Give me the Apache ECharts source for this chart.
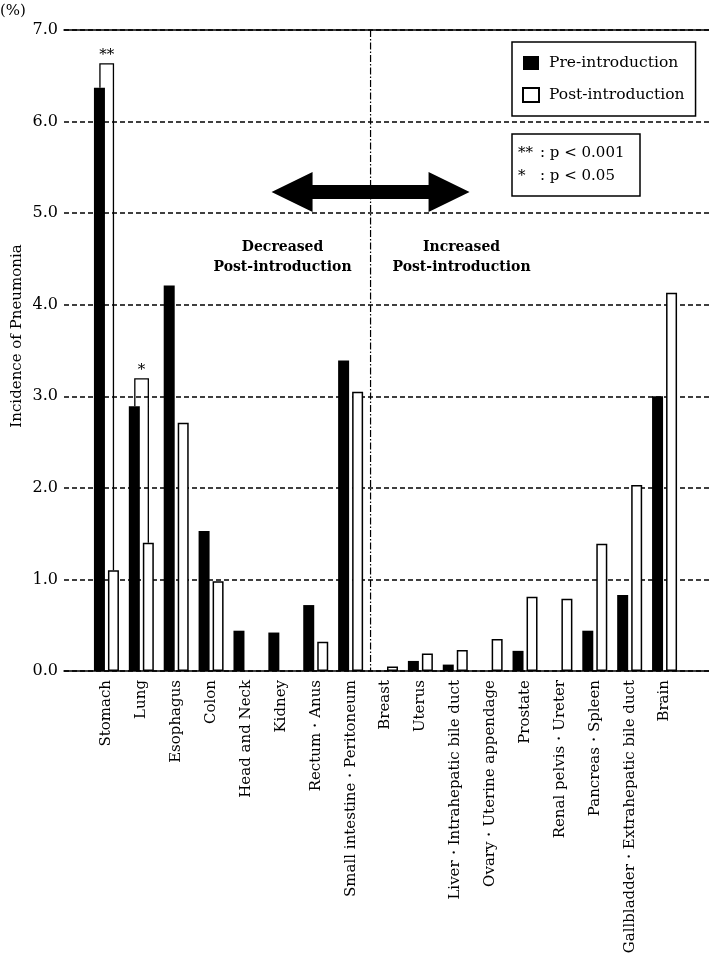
<!DOCTYPE html>
<html>
<head>
<meta charset="utf-8">
<script src="https://cdn.jsdelivr.net/npm/echarts@6/dist/echarts.min.js"></script>
<style>
html,body{margin:0;padding:0;background:#fff;}
#chart{width:709px;height:966px;}
</style>
</head>
<body>
<div id="chart"></div>
<script>
const categories = ['Stomach','Lung','Esophagus','Colon','Head and Neck','Kidney','Rectum・Anus','Small intestine・Peritoneum','Breast','Uterus','Liver・Intrahepatic bile duct','Ovary・Uterine appendage','Prostate','Renal pelvis・Ureter','Pancreas・Spleen','Gallbladder・Extrahepatic bile duct','Brain'];
const preValues  = [6.37, 2.89, 4.21, 1.53, 0.44, 0.42, 0.72, 3.39, null, 0.11, 0.07, null, 0.22, null, 0.44, 0.83, 3.00];
const postValues = [1.10, 1.40, 2.71, 0.98, null, null, 0.32, 3.05, 0.05, 0.19, 0.23, 0.35, 0.81, 0.79, 1.39, 2.03, 4.13];
const sigCategories = ['Stomach','Lung'];
const sigTops = [6.63, 3.19];
const sigMarks = ['**','*'];
const yMin = 0, yMax = 7, yInterval = 1;
const seriesNames = ['Pre-introduction','Post-introduction'];
const yTitle = 'Incidence of Pneumonia';
const pLegend = [['**', ': p < 0.001'], ['*', ': p < 0.05']];
const regionTexts = [['Decreased','Post-introduction'], ['Increased','Post-introduction']];

const FONT = 'DejaVu Serif';
const BAR_W = 11, GAP_PX = 3;
const chart = echarts.init(document.getElementById('chart'));

const sigData = sigCategories.map((c, i) => {
  const k = categories.indexOf(c);
  return [k, preValues[k], postValues[k], sigTops[i], sigMarks[i]];
});

chart.setOption({
  animation: false,
  backgroundColor: '#fff',
  textStyle: { fontFamily: FONT, color: '#000' },
  grid: [
    { left: 64, right: 0, top: 30, bottom: 295, outerBoundsMode: 'none', containLabel: false },
    { left: 89, right: 27, top: 30, bottom: 295, outerBoundsMode: 'none', containLabel: false }
  ],
  legend: {
    data: seriesNames,
    orient: 'vertical',
    left: 512, top: 42,
    icon: 'rect',
    itemWidth: 16, itemHeight: 14, itemGap: 16,
    padding: [13, 11, 13, 10],
    borderColor: '#000', borderWidth: 1.5,
    textStyle: { fontFamily: FONT, fontSize: 15.5, color: '#000', padding: [0, 0, 0, 5] }
  },
  xAxis: [
    { gridIndex: 0, type: 'value', min: 0, max: 1, position: 'bottom',
      axisLine: { show: true, lineStyle: { color: '#000', width: 1.5 } },
      axisTick: { show: false }, axisLabel: { show: false }, splitLine: { show: false } },
    { gridIndex: 0, type: 'value', min: 0, max: 1, position: 'top',
      axisLine: { show: true, lineStyle: { color: '#000', width: 1.5 } },
      axisTick: { show: false }, axisLabel: { show: false }, splitLine: { show: false } },
    { gridIndex: 1, type: 'category', data: categories,
      axisLine: { show: false }, axisTick: { show: false }, splitLine: { show: false },
      axisLabel: { interval: 0, rotate: 90, margin: 9, fontFamily: FONT, fontSize: 15, color: '#000' } }
  ],
  yAxis: [
    { gridIndex: 0, type: 'value', min: yMin, max: yMax, interval: yInterval,
      axisLine: { show: false }, axisTick: { show: false },
      axisLabel: { margin: 6, fontFamily: FONT, fontSize: 16, color: '#000', formatter: v => v.toFixed(1) },
      splitLine: { show: true, lineStyle: { color: '#000', width: 1.5, type: [5, 3] } } },
    { gridIndex: 1, type: 'value', min: yMin, max: yMax, interval: yInterval, show: false,
      splitLine: { show: false } }
  ],
  series: [
    { name: seriesNames[0], type: 'bar', xAxisIndex: 2, yAxisIndex: 1,
      data: preValues.map(v => v == null ? '-' : v),
      barWidth: BAR_W, barGap: (GAP_PX / BAR_W * 100) + '%',
      itemStyle: { color: '#000', borderColor: '#000', borderWidth: 0 } },
    { name: seriesNames[1], type: 'bar', xAxisIndex: 2, yAxisIndex: 1,
      data: postValues.map(v => v == null ? '-' : v),
      barWidth: BAR_W, barGap: (GAP_PX / BAR_W * 100) + '%',
      itemStyle: { color: '#fff', borderColor: '#000', borderWidth: 1.5 } },
    { type: 'custom', xAxisIndex: 2, yAxisIndex: 1, z: 5, silent: true,
      data: sigData,
      renderItem: function (params, api) {
        const cx = api.coord([api.value(0), 0])[0];
        const off = (BAR_W + GAP_PX) / 2;
        const xl = cx - off + 0.5, xr = cx + off;
        const yPre = api.coord([api.value(0), api.value(1)])[1];
        const yPost = api.coord([api.value(0), api.value(2)])[1];
        const yTop = api.coord([api.value(0), api.value(3)])[1];
        return { type: 'group', children: [
          { type: 'polyline', shape: { points: [[xl, yPre], [xl, yTop], [xr, yTop], [xr, yPost]] },
            style: { stroke: '#000', lineWidth: 1.3, fill: null } },
          { type: 'text', style: { text: api.value(4), x: (xl + xr) / 2, y: yTop - 1,
            align: 'center', verticalAlign: 'bottom', fontFamily: FONT, fontSize: 15, fill: '#000' } }
        ]};
      }
    }
  ]
});

// annotations positioned from axis scales
const c7 = chart.convertToPixel({ xAxisIndex: 2 }, categories[7]);
const c8 = chart.convertToPixel({ xAxisIndex: 2 }, categories[8]);
const divX = (c7 + c8) / 2 + 2.5;
const yTopPx = chart.convertToPixel({ yAxisIndex: 1 }, yMax);
const yBotPx = chart.convertToPixel({ yAxisIndex: 1 }, yMin);
const arrowY = chart.convertToPixel({ yAxisIndex: 1 }, 5.23);
const half = 99, headL = 41, headH = 20, shaftH = 7;
const arrowPts = [
  [divX - half, arrowY],
  [divX - half + headL, arrowY - headH],
  [divX - half + headL, arrowY - shaftH],
  [divX + half - headL, arrowY - shaftH],
  [divX + half - headL, arrowY - headH],
  [divX + half, arrowY],
  [divX + half - headL, arrowY + headH],
  [divX + half - headL, arrowY + shaftH],
  [divX - half + headL, arrowY + shaftH],
  [divX - half + headL, arrowY + headH]
];
const graphics = [
  { type: 'line', shape: { x1: divX, y1: yTopPx, x2: divX, y2: yBotPx },
    style: { stroke: '#000', lineWidth: 1.2, lineDash: [7, 2, 1.5, 2] }, z: 3 },
  { type: 'polygon', shape: { points: arrowPts }, style: { fill: '#000' }, z: 4 },
  { type: 'text', x: 0, y: 11, style: { text: '(%)', verticalAlign: 'middle', fontFamily: FONT, fontSize: 15, fill: '#000' } },
  { type: 'text', x: 17, y: 336, rotation: Math.PI / 2, style: { text: yTitle, align: 'center', verticalAlign: 'middle', fontFamily: FONT, fontSize: 15, fill: '#000' } },
  { type: 'text', x: divX - 88, y: 257, style: { text: regionTexts[0][0] + '\n' + regionTexts[0][1], align: 'center', verticalAlign: 'middle', lineHeight: 20, fontFamily: FONT, fontWeight: 'bold', fontSize: 14, fill: '#000' } },
  { type: 'text', x: divX + 91, y: 257, style: { text: regionTexts[1][0] + '\n' + regionTexts[1][1], align: 'center', verticalAlign: 'middle', lineHeight: 20, fontFamily: FONT, fontWeight: 'bold', fontSize: 14, fill: '#000' } },
  { type: 'rect', shape: { x: 512, y: 134, width: 128, height: 62 }, style: { fill: '#fff', stroke: '#000', lineWidth: 1.5 }, z: 4 }
];
pLegend.forEach((row, i) => {
  graphics.push({ type: 'text', x: 518, y: 153 + i * 23, z: 5, style: { text: row[0], verticalAlign: 'middle', fontFamily: FONT, fontSize: 15, fill: '#000' } });
  graphics.push({ type: 'text', x: 540, y: 153 + i * 23, z: 5, style: { text: row[1], verticalAlign: 'middle', fontFamily: FONT, fontSize: 15, fill: '#000' } });
});
chart.setOption({ graphic: graphics });
</script>
</body>
</html>
